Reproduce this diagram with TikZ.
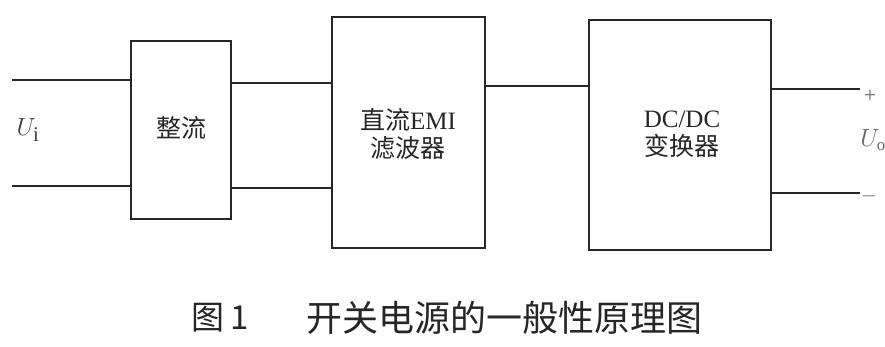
\documentclass[tikz,border=0pt]{standalone}
\usepackage{fontspec}
\setmainfont{Liberation Serif}
\newfontfamily\cjk{Noto Sans CJK SC}
\begin{document}
\begin{tikzpicture}[x=1pt,y=-1pt,
  blk/.style={draw=black!85,line width=2.3pt,inner sep=0pt,anchor=north west},
  wire/.style={draw=black!85,line width=2.3pt},
  lbl/.style={font=\fontsize{25}{30}\selectfont,align=center,text=black!85},
  every node/.append style={inner sep=0pt}]
\useasboundingbox[fill=white] (0,0) rectangle (885,347);
% blocks
\node[blk,minimum width=100pt,minimum height=178pt] (rect) at (130,40) {};
\node[blk,minimum width=153pt,minimum height=231pt] (emi) at (331,16) {};
\node[blk,minimum width=182pt,minimum height=230pt] (dcdc) at (588,19) {};
% texts
\node[lbl] at (181,128) {\cjk 整流};
\node[lbl] at (408,134) {\cjk 直流\rmfamily EMI\\[-2pt]\cjk 滤波器};
\node[lbl] at (682,134) {DC/DC\\[-2pt]\cjk 变换器};
% wire ends
\coordinate (inT) at (12,80);
\coordinate (inB) at (12,186);
\coordinate (outT) at (860,89);
\coordinate (outB) at (860,193);
\draw[wire] (inT) -- (inT -| rect.west);
\draw[wire] (inB) -- (inB -| rect.west);
\draw[wire] (rect.east |- 0,83) -- (emi.west |- 0,83);
\draw[wire] (rect.east |- 0,188) -- (emi.west |- 0,188);
\draw[wire] (emi.east |- 0,86) -- (dcdc.west |- 0,86);
\draw[wire] (dcdc.east |- outT) -- (outT);
\draw[wire] (dcdc.east |- outB) -- (outB);
% terminal labels
\node[text=black!75,font=\fontsize{30}{34}\selectfont] (ui) at (28,130) {$U_{\mathrm{i}}$};
\node[text=black!60,font=\fontsize{22}{24}\selectfont] (plus) at (870,96) {+};
\node[text=black!60,font=\fontsize{24}{28}\selectfont] (uo) at (873,140) {$U_{\mathrm{o}}$};
\node[text=black!60,font=\fontsize{20}{22}\selectfont] (minus) at (869,196) {$-$};
% caption
\node[text=black!85,font=\fontsize{33}{36}\selectfont\cjk] (cap1) at (220,318) {图\,1};
\node[text=black!85,font=\fontsize{36}{38}\selectfont\cjk] (cap2) at (504,318) {开关电源的一般性原理图};
\end{tikzpicture}
\end{document}
